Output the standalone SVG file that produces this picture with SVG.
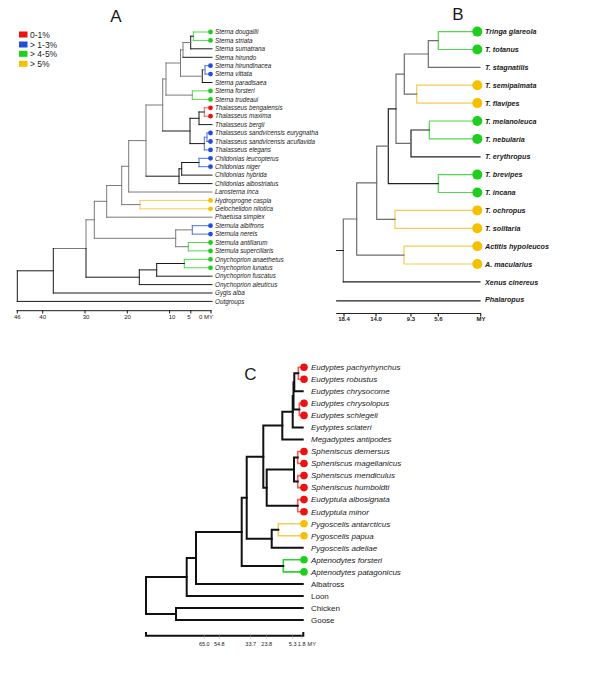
<svg xmlns="http://www.w3.org/2000/svg" width="600" height="686" viewBox="0 0 600 686">
<style>
text{font-family:"Liberation Sans",Arial,sans-serif;fill:#1a1a1a}
.ttl{font-size:17px}
.lg{font-size:8.5px}
.la{font-size:6.3px;font-style:italic}
.lb{font-size:7.2px;font-style:italic;font-weight:bold}
.lc{font-size:8px;font-style:italic}
.ln{font-size:8px}
.sa{font-size:6px;text-anchor:middle}
.sb{font-size:6px;text-anchor:middle;font-weight:bold}
.sc{font-size:5.5px;text-anchor:middle}
path{fill:none;stroke-linecap:square}
.k{stroke:#1a1a1a;stroke-width:1}
.g{stroke:#7a7a7a;stroke-width:1}
.kb{stroke:#222;stroke-width:1.2}
.gb{stroke:#6e6e6e;stroke-width:1.2}
.kc{stroke:#111;stroke-width:2}
.rl{stroke:#f25a5a}
.bl{stroke:#4d70e0}
.gl{stroke:#4fd94f}
.yl{stroke:#f5cc55}
.r{fill:#ee1111}
.b{fill:#1f50d8}
.gr{fill:#1ecf1e}
.y{fill:#f5c000}
</style>

<!-- Titles and legend -->
<text class="ttl" x="116" y="22" text-anchor="middle">A</text>
<text class="ttl" x="458" y="20" text-anchor="middle">B</text>
<text class="ttl" x="250.5" y="380" text-anchor="middle">C</text>
<g id="legend">
<rect x="19" y="31.5" width="8.5" height="6" class="r"/>
<rect x="19" y="41.5" width="8.5" height="6" class="b"/>
<rect x="19" y="50.8" width="8.5" height="6" class="gr"/>
<rect x="19" y="60.8" width="8.5" height="6" class="y"/>
<text class="lg" x="30" y="37.5">0-1%</text>
<text class="lg" x="30" y="47.5">&gt; 1-3%</text>
<text class="lg" x="30" y="56.8">&gt; 4-5%</text>
<text class="lg" x="30" y="66.8">&gt; 5%</text>
</g>

<!-- ===== Tree A connectors ===== -->
<g id="connectors-A">
<path class="gl" d="M193.3 32V40.4M193.3 32H210.5M193.3 40.4H210.5"/>
<path class="k" d="M190.7 36.2V48.8M190.7 36.2H193.3M190.7 48.8H212"/>
<path class="g" d="M183 42.5V57.3M183 42.5H190.7"/>
<path class="k" d="M183 57.3H212"/>
<path class="bl" d="M205 65.7V74.1M205 65.7H210.5M205 74.1H210.5M202.3 69.9H205"/>
<path class="k" d="M202.3 69.9V82.5M202.3 82.5H212"/>
<path class="g" d="M180.5 49.9V76.2M180.5 49.9H183M180.5 76.2H202.3"/>
<path class="gl" d="M192.3 90.9V99.4M192.3 90.9H210.5M192.3 99.4H210.5"/>
<path class="g" d="M166 63V95.1M166 63H180.5M166 95.1H192.3"/>
<path class="rl" d="M204.3 107.8V116.2M204.3 107.8H210.5M204.3 116.2H210.5"/>
<path class="k" d="M199 112V124.6M199 112H204.3M199 124.6H212"/>
<path class="bl" d="M207 133V141.5M207 133H210.5M207 141.5H210.5M204.3 137.2V149.9M204.3 137.2H207M204.3 149.9H210.5"/>
<path class="k" d="M190 118.3V143.6M190 118.3H199M190 143.6H204.3"/>
<path class="g" d="M162.7 79V131M162.7 79H166"/>
<path class="k" d="M162.7 131H190"/>
<path class="bl" d="M199 158.3V166.7M199 158.3H210.5M199 166.7H210.5"/>
<path class="k" d="M181.7 162.5V175.1M181.7 162.5H199M181.7 175.1H212M179 168.8V183.6M179 168.8H181.7M179 183.6H212"/>
<path class="g" d="M146 105V176.2M146 105H162.7"/>
<path class="k" d="M146 176.2H179"/>
<path class="g" d="M128.7 140.6V192M128.7 140.6H146M128.7 192H212"/>
<path class="yl" d="M140 200.4V208.8M140 200.4H210.5M140 208.8H210.5"/>
<path class="g" d="M121.7 166.3V204.6M121.7 166.3H128.7M121.7 204.6H140"/>
<path class="g" d="M106.7 185.5V217.2M106.7 185.5H121.7M106.7 217.2H212"/>
<path class="bl" d="M192.3 225.7V234.1M192.3 225.7H210.5M192.3 234.1H210.5"/>
<path class="gl" d="M188.3 242.5V250.9M188.3 242.5H210.5M188.3 250.9H210.5"/>
<path class="g" d="M175.7 229.9V246.7M175.7 229.9H192.3M175.7 246.7H188.3"/>
<path class="g" d="M94.3 201.3V238.3M94.3 201.3H106.7M94.3 238.3H175.7"/>
<path class="gl" d="M184.3 259.3V267.8M184.3 259.3H210.5M184.3 267.8H210.5"/>
<path class="k" d="M156.7 263.5V276.2M156.7 263.5H184.3M156.7 276.2H212M139.3 269.9V284.6M139.3 269.9H156.7M139.3 284.6H212"/>
<path class="g" d="M86 219.8V248.5M86 219.8H94.3M53.3 248.5H86"/>
<path class="k" d="M86 248.5V277.2M86 277.2H139.3"/>
<path class="k" d="M53.3 248.5V293M53.3 293H212M17.3 270.8V301.4M17.3 270.8H53.3M17.3 301.4H212"/>
<path class="k" d="M17 310.7H211M17.3 310.7V313M42.7 310.7V313M85 310.7V313M127.3 310.7V313M169.6 310.7V313M190.8 310.7V313M211 310.7V313"/>
</g>
<g id="scale-A">
<text class="sa" x="17.3" y="319">46</text>
<text class="sa" x="42.7" y="319">40</text>
<text class="sa" x="86" y="319">30</text>
<text class="sa" x="127.5" y="319">20</text>
<text class="sa" x="172" y="319">10</text>
<text class="sa" x="189" y="319">5</text>
<text x="199" y="319" style="font-size:6px">0 MY</text>
</g>

<!-- Tree A leaves -->
<g id="A-leaves">
<g id="a0"><circle cx="210.5" cy="32" r="2.4" class="gr"/><text class="la" x="215" y="34.2">Sterna dougallii</text></g>
<g id="a1"><circle cx="210.5" cy="40.4" r="2.4" class="gr"/><text class="la" x="215" y="42.6">Sterna striata</text></g>
<g id="a2"><text class="la" x="215" y="51">Sterna sumatrana</text></g>
<g id="a3"><text class="la" x="215" y="59.5">Sterna hirundo</text></g>
<g id="a4"><circle cx="210.5" cy="65.7" r="2.4" class="b"/><text class="la" x="215" y="67.9">Sterna hirundinacea</text></g>
<g id="a5"><circle cx="210.5" cy="74.1" r="2.4" class="b"/><text class="la" x="215" y="76.3">Sterna vittata</text></g>
<g id="a6"><text class="la" x="215" y="84.7">Sterna paradisaea</text></g>
<g id="a7"><circle cx="210.5" cy="90.9" r="2.4" class="gr"/><text class="la" x="215" y="93.1">Sterna forsteri</text></g>
<g id="a8"><circle cx="210.5" cy="99.4" r="2.4" class="gr"/><text class="la" x="215" y="101.6">Sterna trudeaui</text></g>
<g id="a9"><circle cx="210.5" cy="107.8" r="2.4" class="r"/><text class="la" x="215" y="110">Thalasseus bengalensis</text></g>
<g id="a10"><circle cx="210.5" cy="116.2" r="2.4" class="r"/><text class="la" x="215" y="118.4">Thalasseus maxima</text></g>
<g id="a11"><text class="la" x="215" y="126.8">Thalasseus bergii</text></g>
<g id="a12"><circle cx="210.5" cy="133" r="2.4" class="b"/><text class="la" x="215" y="135.2">Thalasseus sandvicensis eurygnatha</text></g>
<g id="a13"><circle cx="210.5" cy="141.5" r="2.4" class="b"/><text class="la" x="215" y="143.7">Thalasseus sandvicensis acuflavida</text></g>
<g id="a14"><circle cx="210.5" cy="149.9" r="2.4" class="b"/><text class="la" x="215" y="152.1">Thalasseus elegans</text></g>
<g id="a15"><circle cx="210.5" cy="158.3" r="2.4" class="b"/><text class="la" x="215" y="160.5">Chlidonias leucopterus</text></g>
<g id="a16"><circle cx="210.5" cy="166.7" r="2.4" class="b"/><text class="la" x="215" y="168.9">Chlidonias niger</text></g>
<g id="a17"><text class="la" x="215" y="177.3">Chlidonias hybrida</text></g>
<g id="a18"><text class="la" x="215" y="185.8">Chlidonias albostriatus</text></g>
<g id="a19"><text class="la" x="215" y="194.2">Larosterna inca</text></g>
<g id="a20"><circle cx="210.5" cy="200.4" r="2.4" class="y"/><text class="la" x="215" y="202.6">Hydroprogne caspia</text></g>
<g id="a21"><circle cx="210.5" cy="208.8" r="2.4" class="y"/><text class="la" x="215" y="211">Gelochelidon nilotica</text></g>
<g id="a22"><text class="la" x="215" y="219.4">Phaetusa simplex</text></g>
<g id="a23"><circle cx="210.5" cy="225.7" r="2.4" class="b"/><text class="la" x="215" y="227.9">Sternula albifrons</text></g>
<g id="a24"><circle cx="210.5" cy="234.1" r="2.4" class="b"/><text class="la" x="215" y="236.3">Sternula nereis</text></g>
<g id="a25"><circle cx="210.5" cy="242.5" r="2.4" class="gr"/><text class="la" x="215" y="244.7">Sternula antillarum</text></g>
<g id="a26"><circle cx="210.5" cy="250.9" r="2.4" class="gr"/><text class="la" x="215" y="253.1">Sternula superciliaris</text></g>
<g id="a27"><circle cx="210.5" cy="259.3" r="2.4" class="gr"/><text class="la" x="215" y="261.5">Onychoprion anaethetus</text></g>
<g id="a28"><circle cx="210.5" cy="267.8" r="2.4" class="gr"/><text class="la" x="215" y="270">Onychoprion lunatus</text></g>
<g id="a29"><text class="la" x="215" y="278.4">Onychoprion fuscatus</text></g>
<g id="a30"><text class="la" x="215" y="286.8">Onychoprion aleuticus</text></g>
<g id="a31"><text class="la" x="215" y="295.2">Gygis alba</text></g>
<g id="a32"><text class="la" x="215" y="303.6">Outgroups</text></g>
</g>

<!-- ===== Tree B connectors ===== -->
<g id="connectors-B">
<path class="gl" style="stroke-width:1.2" d="M438.3 31.6V49.5M438.3 31.6H477.3M438.3 49.5H477.3"/>
<path class="gb" d="M428.3 40.6V67.4M428.3 40.6H438.3M428.3 67.4H480"/>
<path class="yl" style="stroke-width:1.2" d="M416.7 85.2V103.1M416.7 85.2H477.3M416.7 103.1H477.3"/>
<path class="gb" d="M404.3 54V94.2M404.3 54H428.3M404.3 94.2H416.7"/>
<path class="gl" style="stroke-width:1.2" d="M429.3 121V138.9M429.3 121H477.3M429.3 138.9H477.3"/>
<path class="kb" d="M411 130V156.8M411 130H429.3M411 156.8H480"/>
<path class="gb" d="M396 74.1V143.4M396 74.1H404.3M396 143.4H411"/>
<path class="gl" style="stroke-width:1.2" d="M438.3 174.6V192.5M438.3 174.6H477.3M438.3 192.5H477.3"/>
<path class="kb" d="M388.3 108.8V183.6M388.3 108.8H396M388.3 183.6H438.3"/>
<path class="yl" style="stroke-width:1.2" d="M395 210.4V228.3M395 210.4H477.3M395 228.3H477.3"/>
<path class="gb" d="M376.7 146.2V219.4M376.7 146.2H388.3M376.7 219.4H395"/>
<path class="yl" style="stroke-width:1.2" d="M404 246.2V264M404 246.2H477.3M404 264H477.3"/>
<path class="gb" d="M356.7 182.8V255.1M356.7 182.8H376.7M356.7 255.1H404"/>
<path class="gb" d="M343.3 219V281.9M343.3 219H356.7"/>
<path class="kb" d="M343.3 281.9H480M336.7 250.5H343.3M336.7 300.8H480"/>
<path class="kb" d="M336.7 313.5H480.7M344 313.5V316M376 313.5V316M411 313.5V316M438.3 313.5V316M480.7 313.5V316"/>
</g>
<g id="scale-B">
<text class="sb" x="344" y="321">18.4</text>
<text class="sb" x="376" y="321">14.0</text>
<text class="sb" x="411" y="321">9.3</text>
<text class="sb" x="438.3" y="321">5.6</text>
<text class="sb" x="481" y="321">MY</text>
</g>

<!-- Tree B leaves -->
<g id="B-leaves">
<g id="b0"><circle cx="477.3" cy="31.6" r="5" class="gr"/><text class="lb" x="485" y="34.2">Tringa glareola</text></g>
<g id="b1"><circle cx="477.3" cy="49.5" r="5" class="gr"/><text class="lb" x="485" y="52.1">T. totanus</text></g>
<g id="b2"><text class="lb" x="485" y="70">T. stagnatilis</text></g>
<g id="b3"><circle cx="477.3" cy="85.2" r="5" class="y"/><text class="lb" x="485" y="87.8">T. semipalmata</text></g>
<g id="b4"><circle cx="477.3" cy="103.1" r="5" class="y"/><text class="lb" x="485" y="105.7">T. flavipes</text></g>
<g id="b5"><circle cx="477.3" cy="121" r="5" class="gr"/><text class="lb" x="485" y="123.6">T. melanoleuca</text></g>
<g id="b6"><circle cx="477.3" cy="138.9" r="5" class="gr"/><text class="lb" x="485" y="141.5">T. nebularia</text></g>
<g id="b7"><text class="lb" x="485" y="159.4">T. erythropus</text></g>
<g id="b8"><circle cx="477.3" cy="174.6" r="5" class="gr"/><text class="lb" x="485" y="177.2">T. brevipes</text></g>
<g id="b9"><circle cx="477.3" cy="192.5" r="5" class="gr"/><text class="lb" x="485" y="195.1">T. incana</text></g>
<g id="b10"><circle cx="477.3" cy="210.4" r="5" class="y"/><text class="lb" x="485" y="213">T. ochropus</text></g>
<g id="b11"><circle cx="477.3" cy="228.3" r="5" class="y"/><text class="lb" x="485" y="230.9">T. solitaria</text></g>
<g id="b12"><circle cx="477.3" cy="246.2" r="5" class="y"/><text class="lb" x="485" y="248.8">Actitis hypoleucos</text></g>
<g id="b13"><circle cx="477.3" cy="264" r="5" class="y"/><text class="lb" x="485" y="266.6">A. macularius</text></g>
<g id="b14"><text class="lb" x="485" y="284.5">Xenus cinereus</text></g>
<g id="b15"><text class="lb" x="485" y="302.4">Phalaropus</text></g>
</g>

<!-- ===== Tree C connectors ===== -->
<g id="connectors-C">
<path class="rl" style="stroke-width:1.6" d="M298.3 367.2V379.2M298.3 367.2H304M298.3 379.2H304"/>
<path class="kc" d="M294.3 373.2V391.3M294.3 373.2H298.3M294.3 391.3H302.7"/>
<path class="rl" style="stroke-width:1.6" d="M299.3 403.3V415.4M299.3 403.3H304M299.3 415.4H304"/>
<path class="kc" d="M293.5 382.3V409.4M293.5 409.4H299.3"/>
<path class="kc" d="M292.7 395.9V427.4M292.7 427.4H302.7"/>
<path class="kc" d="M282.3 411.7V439.4M282.3 411.7H292.7M282.3 439.4H302.7"/>
<path class="rl" style="stroke-width:1.6" d="M297.7 451.5V463.5M297.7 451.5H304M297.7 463.5H304M297.7 475.6V487.6M297.7 475.6H304M297.7 487.6H304M297.7 499.6V511.7M297.7 499.6H304M297.7 511.7H304"/>
<path class="kc" d="M294 457.5V481.6M294 457.5H297.7M294 481.6H297.7"/>
<path class="kc" d="M266.7 469.6V505.7M266.7 469.6H294M266.7 505.7H297.7"/>
<path class="kc" d="M263.3 425.6V487.7M263.3 425.6H282.3M263.3 487.7H266.7"/>
<path class="yl" style="stroke-width:1.6" d="M278.3 523.7V535.8M278.3 523.7H304M278.3 535.8H304"/>
<path class="kc" d="M271.7 529.8V547.8M271.7 529.8H278.3M271.7 547.8H302.7"/>
<path class="kc" d="M246.7 456.7V538.8M246.7 456.7H263.3M246.7 538.8H271.7"/>
<path class="gl" style="stroke-width:1.6;stroke:#2fd02f" d="M283.3 559.8V571.9M283.3 559.8H304M283.3 571.9H304"/>
<path class="kc" d="M241.7 497.8V565.9M241.7 497.8H246.7M241.7 565.9H283.3"/>
<path class="kc" d="M196 531.9V583.9M196 531.9H241.7M196 583.9H302.7"/>
<path class="kc" d="M186.7 557.9V596M186.7 557.9H196M186.7 596H302.7"/>
<path class="kc" d="M176 608V620M176 608H302.7M176 620H302.7"/>
<path class="kc" d="M146 577V614M146 577H186.7M146 614H176"/>
<path class="kc" d="M146 635.7H303.3M146 635.7V633M303.3 635.7V633"/>
<path style="stroke:#999;stroke-width:0.6" d="M204.3 635.7V638M219.3 635.7V638M250.7 635.7V638M266.7 635.7V638M292.7 635.7V638M301.7 635.7V638"/>
</g>
<g id="scale-C">
<text class="sc" x="204.3" y="645.5">65.0</text>
<text class="sc" x="219.3" y="645.5">54.8</text>
<text class="sc" x="250.7" y="645.5">33.7</text>
<text class="sc" x="266.7" y="645.5">23.8</text>
<text class="sc" x="292.7" y="645.5">5.3</text>
<text class="sc" x="301.7" y="645.5">1.8</text>
<text class="sc" x="311.7" y="645.5">MY</text>
</g>

<!-- Tree C leaves -->
<g id="C-leaves">
<g id="c0"><circle cx="304" cy="367.2" r="3.8" class="r"/><text class="lc" x="311" y="370">Eudyptes pachyrhynchus</text></g>
<g id="c1"><circle cx="304" cy="379.2" r="3.8" class="r"/><text class="lc" x="311" y="382">Eudyptes robustus</text></g>
<g id="c2"><text class="lc" x="311" y="394.1">Eudyptes chrysocome</text></g>
<g id="c3"><circle cx="304" cy="403.3" r="3.8" class="r"/><text class="lc" x="311" y="406.1">Eudyptes chrysolopus</text></g>
<g id="c4"><circle cx="304" cy="415.4" r="3.8" class="r"/><text class="lc" x="311" y="418.2">Eudyptes schlegeli</text></g>
<g id="c5"><text class="lc" x="311" y="430.2">Eydyptes sclateri</text></g>
<g id="c6"><text class="lc" x="311" y="442.2">Megadyptes antipodes</text></g>
<g id="c7"><circle cx="304" cy="451.5" r="3.8" class="r"/><text class="lc" x="311" y="454.3">Spheniscus demersus</text></g>
<g id="c8"><circle cx="304" cy="463.5" r="3.8" class="r"/><text class="lc" x="311" y="466.3">Spheniscus magellanicus</text></g>
<g id="c9"><circle cx="304" cy="475.6" r="3.8" class="r"/><text class="lc" x="311" y="478.4">Spheniscus mendiculus</text></g>
<g id="c10"><circle cx="304" cy="487.6" r="3.8" class="r"/><text class="lc" x="311" y="490.4">Spheniscus humboldti</text></g>
<g id="c11"><circle cx="304" cy="499.6" r="3.8" class="r"/><text class="lc" x="311" y="502.4">Eudyptula albosignata</text></g>
<g id="c12"><circle cx="304" cy="511.7" r="3.8" class="r"/><text class="lc" x="311" y="514.5">Eudyptula minor</text></g>
<g id="c13"><circle cx="304" cy="523.7" r="3.8" class="y"/><text class="lc" x="311" y="526.5">Pygoscelis antarcticus</text></g>
<g id="c14"><circle cx="304" cy="535.8" r="3.8" class="y"/><text class="lc" x="311" y="538.6">Pygoscelis papua</text></g>
<g id="c15"><text class="lc" x="311" y="550.6">Pygoscelis adeliae</text></g>
<g id="c16"><circle cx="304" cy="559.8" r="3.8" class="gr"/><text class="lc" x="311" y="562.6">Aptenodytes forsteri</text></g>
<g id="c17"><circle cx="304" cy="571.9" r="3.8" class="gr"/><text class="lc" x="311" y="574.7">Aptenodytes patagonicus</text></g>
<g id="c18"><text class="ln" x="311" y="586.7">Albatross</text></g>
<g id="c19"><text class="ln" x="311" y="598.8">Loon</text></g>
<g id="c20"><text class="ln" x="311" y="610.8">Chicken</text></g>
<g id="c21"><text class="ln" x="311" y="622.8">Goose</text></g>
</g>
</svg>
